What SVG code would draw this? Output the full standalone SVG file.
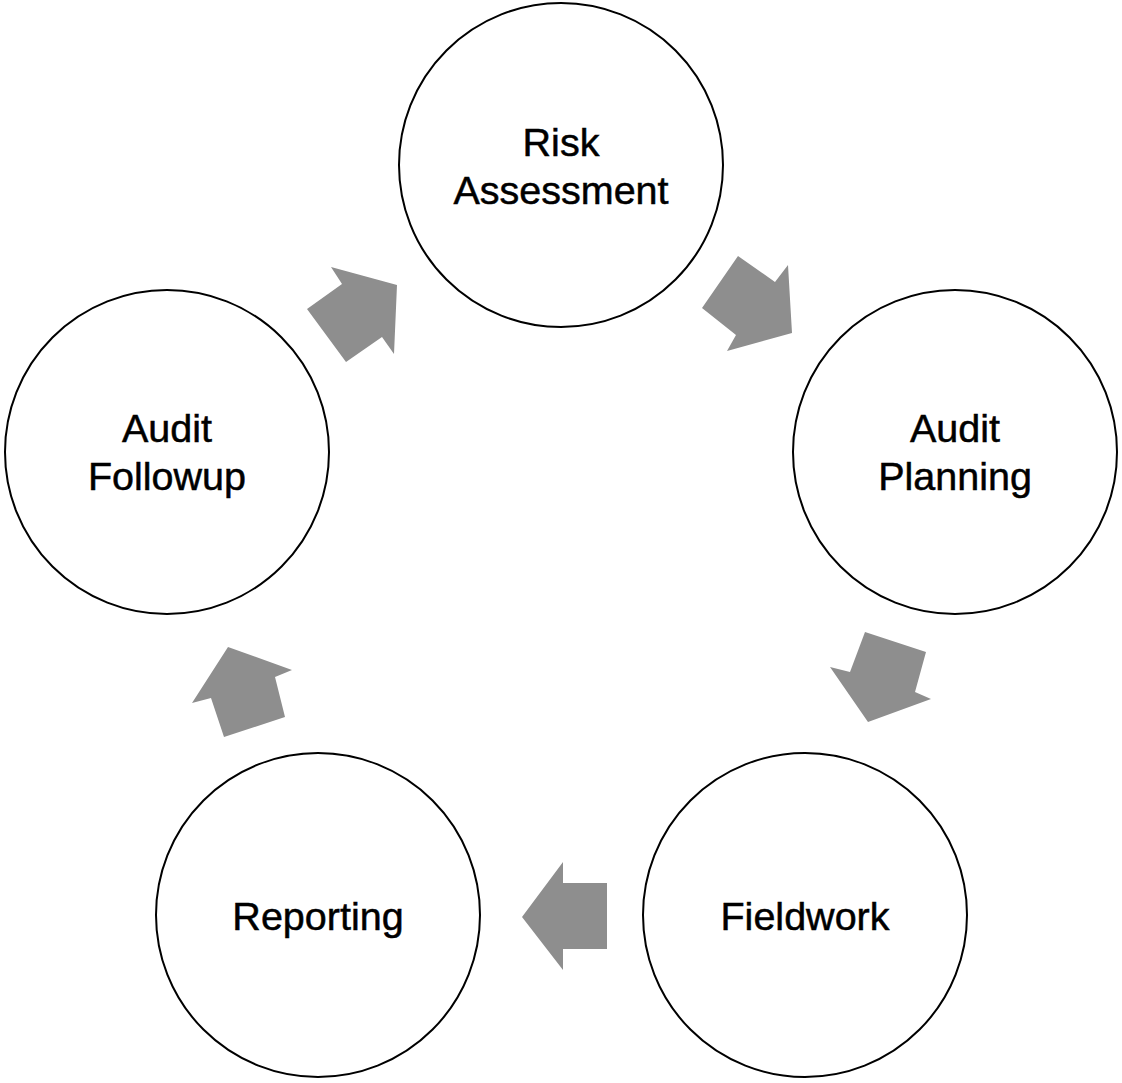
<svg xmlns="http://www.w3.org/2000/svg" width="1122" height="1083" viewBox="0 0 1122 1083">
<style>
.node circle{fill:#fff;stroke:#000;stroke-width:2}
.node text{font-family:"Liberation Sans","DejaVu Sans",sans-serif;font-size:39.5px;fill:#000;stroke:#000;stroke-width:0.5;text-anchor:middle}
.conn polygon{fill:#8e8e8e;stroke:none}
</style>
<rect width="1122" height="1083" fill="#fff"/>
<g class="conn" id="connectors">
<polygon id="c1" points="738,256 775,282 788,265 792,333 727,351 736,335 702,308"/>
<polygon id="c2" points="865,632 926,652 915,692 931,699 868,722 830,667 850,672"/>
<polygon id="c3" points="563,862 563,883 607,883 607,949 563,949 563,970 522,917"/>
<polygon id="c4" points="228,647 292,670 275,677 285,717 224,737 211,698 192,703"/>
<polygon id="c5" points="331,267 397,285 394,354 382,337 346,362 307,309 342,284"/>
</g>
<g class="node" id="risk-assessment">
<circle cx="561" cy="165" r="162"/>
<text x="561" y="156">Risk</text>
<text x="561" y="204">Assessment</text>
</g>
<g class="node" id="audit-planning">
<circle cx="955" cy="452" r="162"/>
<text x="955" y="442">Audit</text>
<text x="955" y="490">Planning</text>
</g>
<g class="node" id="fieldwork">
<circle cx="805" cy="915" r="162"/>
<text x="805" y="930">Fieldwork</text>
</g>
<g class="node" id="reporting">
<circle cx="318" cy="915" r="162"/>
<text x="318" y="930">Reporting</text>
</g>
<g class="node" id="audit-followup">
<circle cx="167" cy="452" r="162"/>
<text x="167" y="442">Audit</text>
<text x="167" y="490">Followup</text>
</g>
</svg>
